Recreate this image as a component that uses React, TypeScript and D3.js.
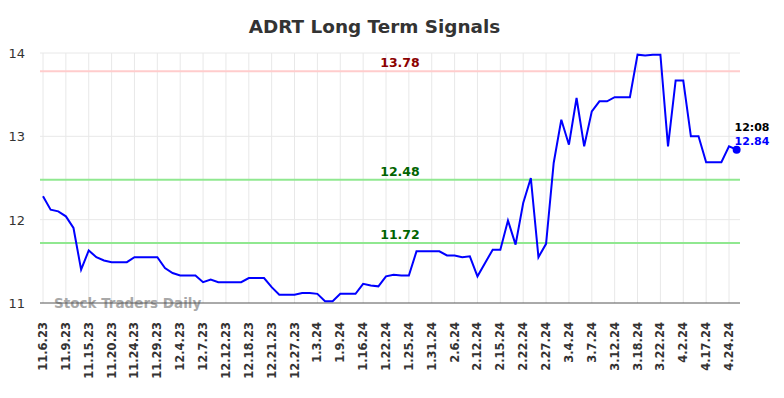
import React from 'react';
import * as d3 from 'd3';

const W = 784;
const H = 398;

const tickLabels = [
  '11.6.23', '11.9.23', '11.15.23', '11.20.23', '11.24.23', '11.29.23', '12.4.23', '12.7.23',
  '12.12.23', '12.18.23', '12.21.23', '12.27.23', '1.3.24', '1.9.24', '1.16.24', '1.22.24',
  '1.25.24', '1.31.24', '2.6.24', '2.12.24', '2.15.24', '2.22.24', '2.27.24', '3.4.24',
  '3.7.24', '3.12.24', '3.18.24', '3.22.24', '4.2.24', '4.17.24', '4.24.24',
];

// closing prices, one per point (labels every 3rd point)
const prices = [
  12.28, 12.12, 12.10, 12.04, 11.90, 11.40, 11.63, 11.55, 11.51, 11.49,
  11.49, 11.49, 11.55, 11.55, 11.55, 11.55, 11.42, 11.36, 11.33, 11.33,
  11.33, 11.25, 11.28, 11.25, 11.25, 11.25, 11.25, 11.30, 11.30, 11.30,
  11.19, 11.10, 11.10, 11.10, 11.12, 11.12, 11.11, 11.02, 11.02, 11.11,
  11.11, 11.11, 11.23, 11.21, 11.20, 11.32, 11.34, 11.33, 11.33, 11.62,
  11.62, 11.62, 11.62, 11.57, 11.57, 11.55, 11.56, 11.32, 11.48, 11.64,
  11.64, 11.99, 11.70, 12.20, 12.50, 11.55, 11.71, 12.68, 13.20, 12.90,
  13.46, 12.88, 13.30, 13.42, 13.42, 13.47, 13.47, 13.47, 13.98, 13.97,
  13.98, 13.98, 12.88, 13.67, 13.67, 13.00, 13.00, 12.69, 12.69, 12.69,
  12.88, 12.84,
];

const yTicks = [11, 12, 13, 14];
const resistance = 13.78;
const supports = [12.48, 11.72];
const lastTime = '12:08';

const margin = { top: 53, right: 44, bottom: 95, left: 40 };
const font = 'DejaVu Sans, sans-serif';

export default function App() {
  const x = d3.scaleLinear().domain([0, 90]).range([43, 729]);
  const y = d3.scaleLinear().domain([11, 14]).range([H - margin.bottom, margin.top]);
  const line = d3.line<number>().x((_, i) => x(i)).y(d => y(d));
  const left = margin.left;
  const right = W - margin.right;
  const lastI = prices.length - 1;
  const last = prices[lastI];

  return (
    <svg width={W} height={H} style={{ position: 'absolute', left: 0, top: 0, background: '#fff' }}>
      <text x={374.5} y={33} textAnchor="middle" fontFamily={font} fontSize={18.4} fontWeight="bold" fill="#333">
        ADRT Long Term Signals
      </text>
      {tickLabels.map((t, k) => (
        <line key={'vg' + t} x1={x(k * 3)} x2={x(k * 3)} y1={margin.top} y2={y(11)} stroke="#e8e8e8" strokeWidth={1} />
      ))}
      {yTicks.map(v => (
        <g key={'yt' + v}>
          {v !== 11 && <line x1={left} x2={right} y1={y(v)} y2={y(v)} stroke="#e8e8e8" strokeWidth={1} />}
          <text x={25} y={y(v) + 5} textAnchor="end" fontFamily={font} fontSize={13} fill="#333">{v}</text>
        </g>
      ))}
      <text x={54} y={y(11) + 5} fontFamily={font} fontSize={13.5} fontWeight="bold" fill="#999" opacity={0.85}>
        Stock Traders Daily
      </text>
      <line x1={left} x2={right} y1={y(resistance)} y2={y(resistance)} stroke="#ffcccc" strokeWidth={2} />
      <text x={400} y={y(resistance) - 4} textAnchor="middle" fontFamily={font} fontSize={12.5} fontWeight="bold" fill="#8b0000">
        {resistance.toFixed(2)}
      </text>
      {supports.map(s => (
        <g key={'s' + s}>
          <line x1={left} x2={right} y1={y(s)} y2={y(s)} stroke="#90e890" strokeWidth={2} />
          <text x={400} y={y(s) - 4} textAnchor="middle" fontFamily={font} fontSize={12.5} fontWeight="bold" fill="#006400">
            {s.toFixed(2)}
          </text>
        </g>
      ))}
      <line x1={left} x2={right} y1={y(11)} y2={y(11)} stroke="#555" strokeWidth={1} />
      <path d={line(prices) || ''} fill="none" stroke="#0000ff" strokeWidth={2} />
      <circle cx={x(lastI)} cy={y(last)} r={4} fill="#0000ff" />
      <text x={752} y={131} textAnchor="middle" fontFamily={font} fontSize={11} fontWeight="bold" fill="#000">{lastTime}</text>
      <text x={752} y={145} textAnchor="middle" fontFamily={font} fontSize={11} fontWeight="bold" fill="#0000ff">{last.toFixed(2)}</text>
      {tickLabels.map((t, k) => (
        <text
          key={'xl' + t}
          transform={`translate(${x(k * 3) + 4},${y(11) + 19}) rotate(-90)`}
          textAnchor="end"
          fontFamily={font}
          fontSize={11.5}
          fontWeight="bold"
          fill="#333"
        >
          {t}
        </text>
      ))}
    </svg>
  );
}
